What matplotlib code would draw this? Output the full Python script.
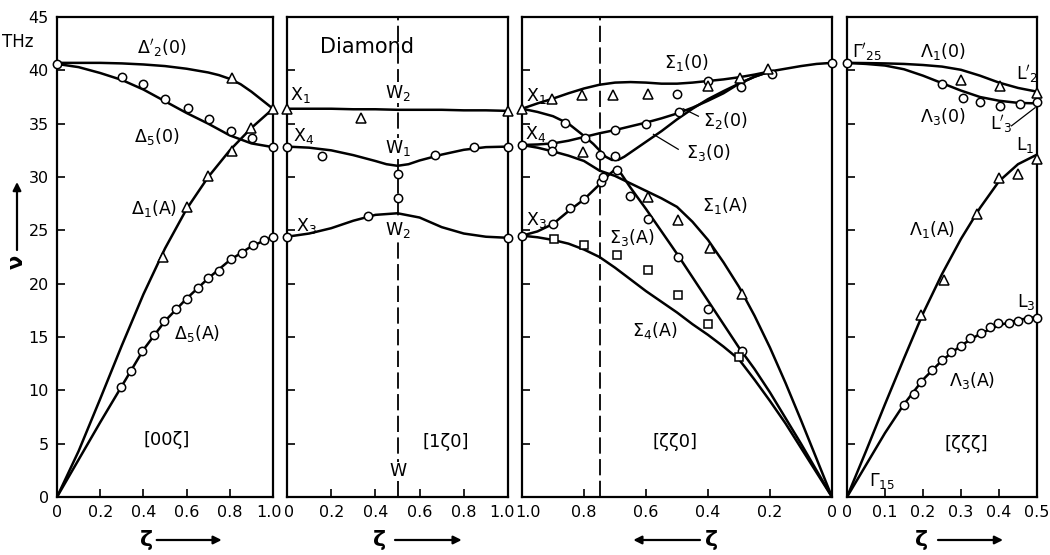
import matplotlib
matplotlib.use('Agg')
import matplotlib.pyplot as plt
from matplotlib.transforms import ScaledTranslation

plt.rcParams['font.family'] = ['DejaVu Sans']
plt.rcParams['mathtext.fontset'] = 'dejavusans'

# ---------------- Panel 1 : [0 0 zeta]  (Gamma -> X) ----------------
p1_lo_zeta = [0, 0.1, 0.2, 0.3, 0.4, 0.5, 0.6, 0.7, 0.75, 0.8, 0.85, 0.9, 0.95, 1.0]
p1_lo_nu = [40.7, 40.7, 40.7, 40.65, 40.55, 40.4, 40.15, 39.8, 39.55, 39.2, 38.7, 38.0, 37.2, 36.4]
p1_to_zeta = [0, 0.1, 0.2, 0.3, 0.4, 0.5, 0.6, 0.7, 0.8, 0.9, 1.0]
p1_to_nu = [40.6, 40.3, 39.75, 39.1, 38.2, 37.1, 36.0, 35.0, 33.9, 33.15, 32.8]
p1_la_zeta = [0, 0.1, 0.2, 0.3, 0.4, 0.5, 0.6, 0.7, 0.8, 0.9, 1.0]
p1_la_nu = [0, 4.3, 9.2, 14.2, 19.0, 23.3, 27.0, 30.0, 32.5, 34.6, 36.4]
p1_ta_zeta = [0, 0.1, 0.2, 0.3, 0.4, 0.5, 0.6, 0.7, 0.8, 0.9, 1.0]
p1_ta_nu = [0, 3.5, 7.0, 10.4, 13.8, 16.5, 18.6, 20.5, 22.2, 23.5, 24.4]

p1_circ_zeta = [0, 0.30, 0.40, 0.50, 0.605, 0.705, 0.805, 0.904, 1.0, 1.0,
                0.295, 0.343, 0.392, 0.449, 0.495, 0.549, 0.603, 0.654, 0.70,
                0.751, 0.805, 0.855, 0.909, 0.958]
p1_circ_nu = [40.6, 39.4, 38.7, 37.3, 36.5, 35.4, 34.3, 33.7, 32.8, 24.4,
              10.3, 11.8, 13.7, 15.2, 16.5, 17.6, 18.6, 19.6, 20.5,
              21.2, 22.3, 22.9, 23.6, 24.1]
p1_tri_zeta = [0.49, 0.60, 0.70, 0.81, 0.897, 0.81, 1.0]
p1_tri_nu = [22.5, 27.2, 30.1, 32.4, 34.6, 39.3, 36.4]

# ---------------- Panel 2 : [1 zeta 0]  (X -> W -> X) ----------------
p2_top_zeta = [0, 0.1, 0.2, 0.3, 0.4, 0.5, 0.6, 0.7, 0.8, 0.9, 1.0]
p2_top_nu = [36.4, 36.4, 36.4, 36.35, 36.35, 36.3, 36.3, 36.3, 36.25, 36.25, 36.2]
p2_mid_zeta = [0, 0.1, 0.2, 0.3, 0.4, 0.45, 0.5, 0.55, 0.6, 0.7, 0.8, 0.9, 1.0]
p2_mid_nu = [32.85, 32.75, 32.5, 32.05, 31.5, 31.2, 31.05, 31.2, 31.55, 32.1, 32.55, 32.8, 32.85]
p2_low_zeta = [0, 0.1, 0.2, 0.3, 0.4, 0.5, 0.6, 0.7, 0.8, 0.9, 1.0]
p2_low_nu = [24.4, 24.7, 25.2, 25.9, 26.45, 26.6, 26.2, 25.3, 24.7, 24.4, 24.3]

p2_circ_zeta = [0, 0, 1.0, 1.0, 0.16, 0.67, 0.846, 0.5, 0.5, 0.367]
p2_circ_nu = [32.85, 24.4, 32.85, 24.3, 32.0, 32.1, 32.8, 30.3, 28.0, 26.3]
p2_tri_zeta = [0, 1.0, 0.333]
p2_tri_nu = [36.4, 36.2, 35.5]

# ---------------- Panel 3 : [zeta zeta 0]  (X -> K -> Gamma) ----------------
p3_s10_zeta = [1.0, 0.95, 0.9, 0.85, 0.8, 0.75, 0.7, 0.65, 0.6, 0.55, 0.5, 0.45, 0.4,
               0.35, 0.3, 0.25, 0.2, 0.15, 0.1, 0.05, 0]
p3_s10_nu = [36.4, 36.9, 37.35, 37.85, 38.3, 38.65, 38.85, 38.9, 38.85, 38.75, 38.75,
             38.85, 39.0, 39.15, 39.35, 39.6, 39.9, 40.15, 40.4, 40.6, 40.7]
p3_s20_zeta = [1.0, 0.95, 0.9, 0.85, 0.8, 0.75, 0.7, 0.65, 0.6, 0.55, 0.5, 0.45, 0.4,
               0.35, 0.3, 0.25, 0.2]
p3_s20_nu = [33.0, 33.05, 33.15, 33.4, 33.75, 34.1, 34.4, 34.75, 35.1, 35.5, 35.95,
             36.5, 37.15, 37.85, 38.75, 39.4, 39.9]
p3_s30_zeta = [1.0, 0.95, 0.9, 0.85, 0.8, 0.77, 0.75, 0.73, 0.71, 0.69, 0.67, 0.65,
               0.62, 0.6, 0.55, 0.5, 0.45, 0.4, 0.35, 0.3, 0.25, 0.2]
p3_s30_nu = [36.4, 36.1, 35.7, 35.0, 33.85, 33.1, 32.5, 31.9, 31.6, 31.6, 31.9, 32.3,
             32.9, 33.3, 34.3, 35.4, 36.4, 37.3, 38.05, 38.75, 39.4, 39.9]
p3_s1a_zeta = [1.0, 0.95, 0.9, 0.85, 0.8, 0.75, 0.7, 0.65, 0.6, 0.55, 0.5, 0.45, 0.4,
               0.35, 0.3, 0.25, 0.2, 0.15, 0.1, 0.05, 0]
p3_s1a_nu = [33.0, 32.75, 32.4, 32.0, 31.5, 30.6, 30.1, 29.4, 28.7, 28.0, 27.2, 25.8,
             24.1, 22.0, 19.7, 17.0, 14.0, 10.7, 7.2, 3.6, 0]
p3_s3a_zeta = [1.0, 0.95, 0.9, 0.85, 0.8, 0.75, 0.72, 0.7, 0.68, 0.65, 0.6, 0.55, 0.5,
               0.45, 0.4, 0.35, 0.3, 0.25, 0.2, 0.15, 0.1, 0.05, 0]
p3_s3a_nu = [24.5, 24.9, 25.6, 26.8, 27.9, 29.3, 30.2, 30.7, 30.3, 29.0, 27.0, 24.9,
             22.8, 20.6, 18.4, 16.2, 14.0, 12.0, 9.8, 7.4, 5.0, 2.5, 0]
p3_s4a_zeta = [1.0, 0.95, 0.9, 0.85, 0.8, 0.75, 0.7, 0.65, 0.6, 0.55, 0.5, 0.45, 0.4,
               0.35, 0.3, 0.25, 0.2, 0.15, 0.1, 0.05, 0]
p3_s4a_nu = [24.5, 24.35, 24.1, 23.75, 23.2, 22.5, 21.5, 20.4, 19.3, 18.3, 17.3, 16.2,
             15.2, 14.1, 12.9, 11.0, 9.0, 6.9, 4.6, 2.3, 0]

p3_circ_zeta = [1.0, 1.0, 0, 0.50, 0.40, 0.294, 0.195, 0.904, 0.797, 0.70, 0.60,
                0.494, 0.861, 0.748, 0.70, 0.904, 0.90, 0.845, 0.80, 0.745, 0.738,
                0.695, 0.652, 0.593, 0.496, 0.399, 0.291]
p3_circ_nu = [33.0, 24.5, 40.7, 37.8, 39.0, 38.4, 39.7, 33.1, 33.7, 34.4, 35.0,
              36.1, 35.1, 32.1, 32.0, 32.4, 25.6, 27.1, 27.9, 29.5, 30.0,
              30.7, 28.2, 26.1, 22.5, 17.6, 13.7]
p3_tri_zeta = [1.0, 0.904, 0.807, 0.705, 0.595, 0.399, 0.297, 0.205, 0.802,
               0.593, 0.496, 0.394, 0.291]
p3_tri_nu = [36.4, 37.35, 37.7, 37.7, 37.8, 38.5, 39.3, 40.1, 32.3,
             28.1, 26.0, 23.3, 19.0]
p3_sq_zeta = [0.896, 0.799, 0.695, 0.593, 0.496, 0.399, 0.30]
p3_sq_nu = [24.2, 23.6, 22.7, 21.3, 18.9, 16.2, 13.1]

# ---------------- Panel 4 : [zeta zeta zeta]  (Gamma -> L) ----------------
p4_zeta = [0, 0.05, 0.1, 0.15, 0.2, 0.25, 0.3, 0.35, 0.4, 0.45, 0.5]
p4_l10_nu = [40.7, 40.68, 40.65, 40.6, 40.5, 40.35, 40.05, 39.5, 38.85, 38.35, 38.0]
p4_l30_nu = [40.7, 40.6, 40.45, 40.1, 39.5, 38.8, 38.1, 37.5, 37.15, 36.95, 36.9]
p4_l1a_nu = [0, 4.3, 8.7, 13.0, 17.2, 20.9, 24.2, 27.1, 29.6, 31.2, 32.1]
p4_l3a_nu = [0, 3.0, 6.0, 8.7, 11.0, 12.8, 14.2, 15.3, 16.1, 16.6, 16.9]

p4_circ_zeta = [0, 0.5, 0.5, 0.25, 0.306, 0.35, 0.403, 0.455,
                0.15, 0.176, 0.196, 0.223, 0.249, 0.273, 0.30, 0.324, 0.352,
                0.375, 0.398, 0.425, 0.451, 0.477]
p4_circ_nu = [40.7, 37.0, 16.8, 38.7, 37.4, 37.0, 36.7, 36.8,
              8.6, 9.7, 10.8, 11.9, 12.8, 13.6, 14.2, 14.9, 15.4,
              15.9, 16.3, 16.3, 16.5, 16.7]
p4_tri_zeta = [0.5, 0.5, 0.30, 0.403, 0.196, 0.254, 0.341, 0.40, 0.451]
p4_tri_nu = [37.9, 31.7, 39.1, 38.5, 17.1, 20.3, 26.5, 29.9, 30.3]

# ---------------- Axis tick labels ----------------
ticks_p1 = [0, 0.2, 0.4, 0.6, 0.8, 1.0]
ticklabels_p1 = ['0', '0.2', '0.4', '0.6', '0.8', '1.0']
ticks_p3 = [1.0, 0.8, 0.6, 0.4, 0.2, 0]
ticklabels_p3 = ['1.0', '0.8', '0.6', '0.4', '0.2', '0']
ticks_p4 = [0, 0.1, 0.2, 0.3, 0.4, 0.5]
ticklabels_p4 = ['0', '0.1', '0.2', '0.3', '0.4', '0.5']
yticks = [0, 5, 10, 15, 20, 25, 30, 35, 40, 45]

# ====================================================================
W, H = 1050, 555
fig = plt.figure(figsize=(W / 100, H / 100), dpi=100)
ybot, ytop = 497, 17


def add_ax(x0, x1):
    return fig.add_axes([x0 / W, (H - ybot) / H, (x1 - x0) / W, (ybot - ytop) / H])


ax1 = add_ax(57, 273)
ax2 = add_ax(287, 508)
ax3 = add_ax(522, 832)
ax4 = add_ax(847, 1037)

LW = 1.8
TXT = 12.5


def style(ax, xlim, xt, xtl, ylab):
    ax.set_xlim(*xlim)
    ax.set_ylim(0, 45)
    ax.set_xticks(xt)
    ax.set_xticklabels(xtl)
    ax.set_yticks(yticks)
    if not ylab:
        ax.set_yticklabels([])
    ax.tick_params(direction='in', length=6, width=1.2, labelsize=11.5,
                   top=False, right=False, pad=6)
    for s in ax.spines.values():
        s.set_linewidth(1.6)


def nudge(ax, idx, dx_px):
    lbl = ax.get_xticklabels()[idx]
    lbl.set_transform(lbl.get_transform() +
                      ScaledTranslation(dx_px / 100, 0, fig.dpi_scale_trans))


def curve(ax, z, v):
    ax.plot(z, v, color='black', lw=LW, zorder=2, solid_capstyle='round')


def pts(ax, z, v, m, ms):
    ax.plot(z, v, ls='none', marker=m, ms=ms, mfc='white', mec='black',
            mew=1.1, clip_on=False, zorder=4)


def lab(ax, x, y, s, size=TXT, bg=False):
    kw = {}
    if bg:
        kw['bbox'] = dict(facecolor='white', edgecolor='none', pad=0.5)
    ax.text(x, y, s, ha='center', va='center', fontsize=size, zorder=5, **kw)


# ---- Panel 1
style(ax1, (0, 1.0), ticks_p1, ticklabels_p1, True)
curve(ax1, p1_lo_zeta, p1_lo_nu)
curve(ax1, p1_to_zeta, p1_to_nu)
curve(ax1, p1_la_zeta, p1_la_nu)
curve(ax1, p1_ta_zeta, p1_ta_nu)
pts(ax1, p1_circ_zeta, p1_circ_nu, 'o', 6)
pts(ax1, p1_tri_zeta, p1_tri_nu, '^', 7)
lab(ax1, 0.487, 42.1, r"$\Delta'_2(0)$")
lab(ax1, 0.46, 33.8, r"$\Delta_5(0)$")
lab(ax1, 0.45, 27.0, r"$\Delta_1(\mathrm{A})$")
lab(ax1, 0.65, 15.3, r"$\Delta_5(\mathrm{A})$")
lab(ax1, 0.51, 5.3, "[00ζ]", size=13)

# ---- Panel 2
style(ax2, (0, 1.0), ticks_p1, ticklabels_p1, False)
ax2.axvline(0.5, color='black', lw=1.3, ls=(0, (9, 3)), zorder=1)
curve(ax2, p2_top_zeta, p2_top_nu)
curve(ax2, p2_mid_zeta, p2_mid_nu)
curve(ax2, p2_low_zeta, p2_low_nu)
pts(ax2, p2_circ_zeta, p2_circ_nu, 'o', 6)
pts(ax2, p2_tri_zeta, p2_tri_nu, '^', 7)
lab(ax2, 0.36, 42.2, "Diamond", size=15)
lab(ax2, 0.06, 37.7, r"$\mathrm{X}_1$")
lab(ax2, 0.5, 37.9, r"$\mathrm{W}_2$", bg=True)
lab(ax2, 0.075, 33.8, r"$\mathrm{X}_4$")
lab(ax2, 0.5, 32.7, r"$\mathrm{W}_1$", bg=True)
lab(ax2, 0.09, 25.4, r"$\mathrm{X}_3$")
lab(ax2, 0.5, 25.0, r"$\mathrm{W}_2$", bg=True)
lab(ax2, 0.5, 2.4, "W", bg=True)
lab(ax2, 0.72, 5.2, "[1ζ0]", size=13)

# ---- Panel 3
style(ax3, (1.0, 0), ticks_p3, ticklabels_p3, False)
ax3.axvline(0.75, color='black', lw=1.3, ls=(0, (9, 3)), zorder=1)
curve(ax3, p3_s10_zeta, p3_s10_nu)
curve(ax3, p3_s20_zeta, p3_s20_nu)
curve(ax3, p3_s30_zeta, p3_s30_nu)
curve(ax3, p3_s1a_zeta, p3_s1a_nu)
curve(ax3, p3_s3a_zeta, p3_s3a_nu)
curve(ax3, p3_s4a_zeta, p3_s4a_nu)
pts(ax3, p3_circ_zeta, p3_circ_nu, 'o', 6)
pts(ax3, p3_tri_zeta, p3_tri_nu, '^', 7)
pts(ax3, p3_sq_zeta, p3_sq_nu, 's', 6)
lab(ax3, 0.955, 37.6, r"$\mathrm{X}_1$")
lab(ax3, 0.955, 34.0, r"$\mathrm{X}_4$")
lab(ax3, 0.955, 26.0, r"$\mathrm{X}_3$")
lab(ax3, 0.469, 40.7, r"$\Sigma_1(0)$")
lab(ax3, 0.345, 35.3, r"$\Sigma_2(0)$")
lab(ax3, 0.40, 32.3, r"$\Sigma_3(0)$")
lab(ax3, 0.345, 27.3, r"$\Sigma_1(\mathrm{A})$")
lab(ax3, 0.646, 24.3, r"$\Sigma_3(\mathrm{A})$")
lab(ax3, 0.571, 15.6, r"$\Sigma_4(\mathrm{A})$")
lab(ax3, 0.506, 5.2, "[ζζ0]", size=13)
ax3.plot([0.48, 0.431], [36.4, 35.7], color='black', lw=0.9)
ax3.plot([0.576, 0.496], [34.0, 32.6], color='black', lw=0.9)

# ---- Panel 4
style(ax4, (0, 0.5), ticks_p4, ticklabels_p4, False)
curve(ax4, p4_zeta, p4_l10_nu)
curve(ax4, p4_zeta, p4_l30_nu)
curve(ax4, p4_zeta, p4_l1a_nu)
curve(ax4, p4_zeta, p4_l3a_nu)
pts(ax4, p4_circ_zeta, p4_circ_nu, 'o', 6)
pts(ax4, p4_tri_zeta, p4_tri_nu, '^', 7)
lab(ax4, 0.052, 41.7, r"$\Gamma'_{25}$")
lab(ax4, 0.253, 41.8, r"$\Lambda_1(0)$")
lab(ax4, 0.473, 39.7, r"$\mathrm{L}'_2$")
lab(ax4, 0.253, 35.7, r"$\Lambda_3(0)$")
lab(ax4, 0.407, 35.0, r"$\mathrm{L}'_3$")
lab(ax4, 0.468, 33.0, r"$\mathrm{L}_1$")
lab(ax4, 0.223, 25.1, r"$\Lambda_1(\mathrm{A})$")
lab(ax4, 0.473, 18.3, r"$\mathrm{L}_3$")
lab(ax4, 0.328, 10.95, r"$\Lambda_3(\mathrm{A})$")
lab(ax4, 0.315, 5.0, "[ζζζ]", size=13)
lab(ax4, 0.091, 1.5, r"$\Gamma_{15}$")
ax4.plot([0.433, 0.495], [34.8, 36.5], color='black', lw=0.9)

# nudge crowded tick labels at panel joins
nudge(ax1, -1, -4)
nudge(ax2, 0, 2)
nudge(ax2, -1, -6)
nudge(ax3, 0, 6)

# ---- Figure-level axis titles
fig.text(18 / W, 1 - 42 / H, "THz", ha='center', va='center', fontsize=12)
fig.text(17 / W, 1 - 262 / H, "ν", ha='center', va='center', fontsize=15,
         fontweight='bold', rotation=90)
arrow = dict(arrowstyle='-|>', lw=1.6, color='black', mutation_scale=12,
             shrinkA=0, shrinkB=0)
fig.add_artist(matplotlib.patches.FancyArrowPatch(
    (17 / W, 1 - 250 / H), (17 / W, 1 - 182 / H), transform=fig.transFigure,
    **arrow))

zeta_labels = [(146.7, 156.7, 221.7), (380, 395, 461.7), (711.7, 700, 633.3),
               (921.7, 938, 1003)]
for zx, a0, a1 in zeta_labels:
    fig.text(zx / W, 1 - 540 / H, "ζ", ha='center', va='center', fontsize=16,
             fontweight='bold')
    fig.add_artist(matplotlib.patches.FancyArrowPatch(
        (a0 / W, 1 - 540 / H), (a1 / W, 1 - 540 / H),
        transform=fig.transFigure, **arrow))

fig.savefig('out.png', dpi=100)
